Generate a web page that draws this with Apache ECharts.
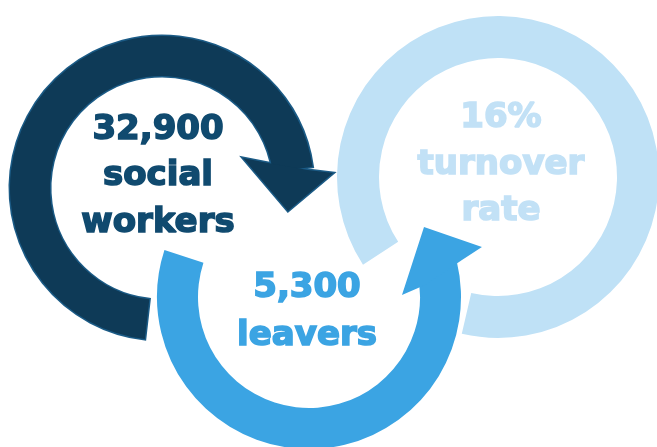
<!DOCTYPE html>
<html><head><meta charset="utf-8">
<script src="https://cdn.jsdelivr.net/npm/echarts@6/dist/echarts.min.js"></script>
<style>html,body{margin:0;padding:0;background:#fff}#c{width:657px;height:447px}</style>
</head><body><div id="c"></div>
<script>
// ---- data ----
const ringNames = ['Social workers', 'Turnover rate', 'Leavers'];
const headlines = ['32,900', '16%', '5,300'];
const captions = [['social', 'workers'], ['turnover', 'rate'], ['leavers']];
const drawOrder = [1, 0, 2];

// ---- layout & style (screen degrees, clockwise from +x) ----
const layout = [
  { cx: 162, cy: 188, r0: 112, r: 152, start: 96.5, end: 352,
    head: [[109, 346.7], [86.4, 339.7], [128, 10.3], [171.7, 355], [147, 353]],
    fill: '#0e3a57', stroke: '#1b5b86', text: '#104a6f', lines: [130, 176, 223], dx: -4 },
  { cx: 498, cy: 177, r0: 119, r: 161, start: 147, end: 463,
    head: null, fill: '#bfe1f6', stroke: null, text: '#c2e1f6', lines: [118, 165, 211], dx: 3 },
  { cx: 309, cy: 297, r0: 111, r: 152, start: -13.6, end: 198,
    head: [[116.6, -5.9], [93, -1.2], [134.6, -31.3], [180, -16.1], [157.4, -13.6]],
    fill: '#3ba4e3', stroke: null, text: '#3ba4e3', lines: [288, 336], dx: -2 }
];
const FONT = 'bold 34px "DejaVu Sans"';
const rad = d => d * Math.PI / 180;

function renderItem(params, api) {
  const i = api.value(0);
  const L = layout[i];
  const children = [];
  const sectorShape = { cx: L.cx, cy: L.cy, r0: L.r0, r: L.r,
    startAngle: rad(L.start), endAngle: rad(L.end), clockwise: true };
  const pts = L.head ? L.head.map(([r, a]) => [L.cx + r * Math.cos(rad(a)), L.cy + r * Math.sin(rad(a))]) : null;
  if (L.stroke) {
    children.push({ type: 'sector', shape: sectorShape, style: { fill: L.stroke, stroke: L.stroke, lineWidth: 3 } });
    if (pts) children.push({ type: 'polygon', shape: { points: pts }, style: { fill: L.stroke, stroke: L.stroke, lineWidth: 3, lineJoin: 'miter' } });
  }
  children.push({ type: 'sector', shape: sectorShape, style: { fill: L.fill } });
  if (pts) children.push({ type: 'polygon', shape: { points: pts }, style: { fill: L.fill } });
  const words = [headlines[i]].concat(captions[i]);
  words.forEach((w, k) => {
    children.push({ type: 'text', x: L.cx + L.dx, y: L.lines[k],
      style: { text: w, fill: L.text, stroke: L.text, lineWidth: 1.6, font: FONT, align: 'center', verticalAlign: 'middle' } });
  });
  return { type: 'group', children };
}

const chart = echarts.init(document.getElementById('c'), null, { renderer: 'canvas' });
chart.setOption({
  backgroundColor: '#ffffff',
  animation: false,
  series: [{
    type: 'custom',
    coordinateSystem: 'none',
    silent: true,
    renderItem,
    data: drawOrder.map(i => ({ name: ringNames[i], value: [i] }))
  }]
});
</script>
</body></html>
